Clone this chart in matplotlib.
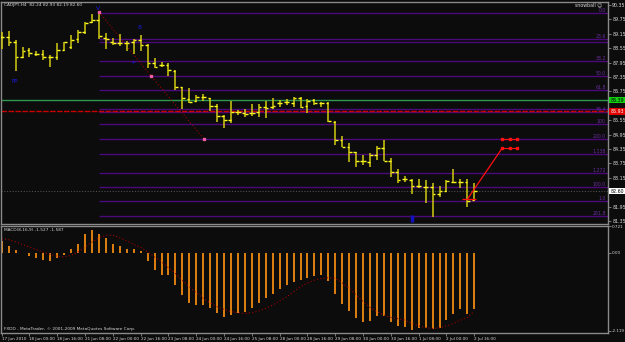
import matplotlib.pyplot as plt

plt.rcParams['font.family'] = ['Liberation Sans Narrow', 'DejaVu Sans']

W, H = 625, 342

# H4 bars, CADJPY 17 Jun - 2 Jul 2010
opens = [89.00, 89.03, 88.82, 88.20, 88.47, 88.31, 88.31, 88.20, 88.17, 88.47,
         88.61, 88.92, 89.21, 89.65, 89.72, 88.96, 88.82, 88.75, 88.75, 88.82,
         88.89, 88.68, 87.95, 87.83, 87.85, 87.61, 86.92, 86.42, 86.36, 86.53,
         86.46, 86.14, 85.73, 85.56, 85.88, 85.84, 85.86, 85.88, 86.09, 86.09,
         86.28, 86.30, 86.28, 86.46, 86.15, 86.39, 86.25, 86.25, 85.49, 84.72,
         84.45, 84.22, 83.84, 83.82, 84.10, 84.38, 83.86, 83.40, 83.09, 83.06,
         82.81, 82.78, 82.76, 82.46, 82.60, 82.99, 82.99, 82.99, 82.24]
highs = [89.21, 89.28, 88.89, 88.61, 88.55, 88.45, 88.47, 88.27, 88.75, 88.82,
         89.10, 89.31, 89.65, 89.97, 90.05, 89.20, 88.96, 89.14, 88.85, 88.92,
         89.10, 88.72, 88.13, 87.99, 87.92, 87.64, 86.92, 86.89, 86.60, 86.64,
         86.47, 86.21, 85.77, 86.36, 85.97, 86.00, 86.22, 86.22, 86.35, 86.46,
         86.39, 86.43, 86.50, 86.50, 86.42, 86.43, 86.32, 86.32, 85.52, 84.89,
         84.61, 84.22, 84.10, 84.17, 84.47, 84.72, 83.96, 83.50, 83.23, 83.10,
         83.11, 83.06, 82.92, 82.82, 83.06, 83.50, 83.09, 83.09, 82.93]
lows = [88.52, 88.65, 87.61, 88.13, 88.20, 88.24, 88.06, 87.75, 88.06, 88.45,
        88.50, 88.78, 89.13, 89.59, 88.92, 88.52, 88.68, 88.65, 88.45, 88.30,
        88.45, 87.71, 87.71, 87.77, 87.39, 86.81, 86.00, 86.25, 86.32, 86.36,
        85.95, 85.46, 85.21, 85.42, 85.77, 85.67, 85.72, 85.70, 85.63, 86.02,
        86.11, 86.18, 86.11, 86.07, 85.86, 86.18, 86.11, 85.49, 84.52, 84.42,
        83.80, 83.61, 83.68, 83.61, 83.89, 83.86, 83.17, 82.92, 82.99, 82.48,
        82.71, 82.11, 81.53, 82.36, 82.57, 82.95, 82.71, 81.92, 82.19]
closes = [89.00, 88.82, 88.20, 88.45, 88.34, 88.31, 88.20, 88.20, 88.47, 88.80,
          88.89, 89.21, 89.61, 89.72, 89.06, 88.92, 88.75, 88.75, 88.78, 88.89,
          88.68, 87.95, 87.78, 87.83, 87.64, 86.92, 86.46, 86.32, 86.53, 86.50,
          86.14, 85.73, 85.56, 85.90, 85.88, 85.81, 85.86, 86.09, 86.05, 86.14,
          86.28, 86.30, 86.46, 86.11, 86.36, 86.25, 86.25, 85.52, 84.72, 84.45,
          84.22, 83.84, 83.86, 84.10, 84.38, 83.86, 83.40, 83.06, 83.09, 82.81,
          82.81, 82.76, 82.46, 82.60, 83.03, 82.99, 82.99, 82.20, 82.60]

macd_hist = [0.31, 0.18, 0.08, -0.02, -0.09, -0.14, -0.21, -0.24, -0.15, -0.06,
             0.10, 0.24, 0.50, 0.62, 0.51, 0.39, 0.24, 0.17, 0.11, 0.11,
             0.05, -0.23, -0.48, -0.61, -0.62, -0.88, -1.15, -1.36, -1.42, -1.42,
             -1.51, -1.63, -1.74, -1.69, -1.63, -1.60, -1.51, -1.36, -1.24, -1.13,
             -1.00, -0.88, -0.79, -0.75, -0.68, -0.64, -0.61, -0.77, -1.13, -1.40,
             -1.58, -1.78, -1.87, -1.85, -1.72, -1.72, -1.87, -1.99, -2.03, -2.10,
             -2.05, -2.05, -2.08, -2.05, -1.83, -1.67, -1.54, -1.67, -1.53]
macd_signal = [0.38, 0.35, 0.29, 0.22, 0.15, 0.08, 0.01, -0.05, -0.10, -0.12,
               -0.07, 0.02, 0.15, 0.29, 0.40, 0.47, 0.47, 0.40, 0.32, 0.22,
               0.14, 0.02, -0.12, -0.25, -0.41, -0.57, -0.75, -0.93, -1.09, -1.24,
               -1.36, -1.47, -1.54, -1.60, -1.63, -1.65, -1.63, -1.58, -1.51, -1.42,
               -1.31, -1.20, -1.06, -0.93, -0.82, -0.75, -0.70, -0.68, -0.70, -0.82,
               -0.97, -1.15, -1.33, -1.49, -1.60, -1.69, -1.76, -1.79, -1.83, -1.92,
               -1.99, -2.03, -2.06, -2.04, -1.99, -1.92, -1.83, -1.76, -1.587]

price_ticks = [90.35, 89.75, 89.15, 88.55, 87.95, 87.35, 86.75, 85.55,
               84.95, 84.35, 83.75, 83.15, 81.95, 81.35]
time_labels = ['17 Jun 2010', '18 Jun 00:00', '18 Jun 16:00', '21 Jun 08:00',
               '22 Jun 00:00', '22 Jun 16:00', '23 Jun 08:00', '24 Jun 00:00',
               '24 Jun 16:00', '25 Jun 08:00', '28 Jun 00:00', '28 Jun 16:00',
               '29 Jun 08:00', '30 Jun 00:00', '30 Jun 16:00', '1 Jul 08:00',
               '2 Jul 00:00', '2 Jul 16:00']

# fibonacci levels and their captions
fib_levels = [90.00, 88.92, 88.80, 88.00, 87.38, 86.80, 86.00, 85.88,
              85.38, 84.75, 84.13, 83.34, 82.75, 82.17, 81.55]
fib_names = ['0.0', '23.6', '', '38.2', '50.0', '61.8', '', '76.4',
             '100', '200.0', '1.138', '1.272', '100.0', '1.0', '261.8']

# hand drawn objects
zigzag_x = [14, 21.5, 29.1]
zigzag_y = [90.06, 87.39, 84.77]
proj_x = [67.1, 72.0]
proj_y = [82.30, 84.38]
target_x = [72.0, 73.1, 74.2]
target_levels = [84.75, 84.38]

green_level = 86.39
red_level = 85.93
last_price = 82.60

bg = '#0C0C0C'
grid_c = '#8A8A8A'
txt_c = '#D8D8D8'
fs = 3.4

fig = plt.figure(figsize=(W / 100, H / 100), dpi=100, facecolor=bg)


def px_axes(x0, y0, x1, y1):
    return fig.add_axes([x0 / W, 1 - y1 / H, (x1 - x0) / W, (y1 - y0) / H])


main = px_axes(1, 2, 608, 224)
macd = px_axes(1, 226, 608, 333)
xlim = (-0.1, 87.24)

for ax in (main, macd):
    ax.set_facecolor(bg)
    ax.set_xlim(*xlim)
    for s in ax.spines.values():
        s.set_color(grid_c)
        s.set_linewidth(1)
    ax.yaxis.tick_right()
    ax.tick_params(colors=grid_c, labelcolor=txt_c, labelsize=fs, length=2,
                   width=0.6, pad=1)

n = len(opens)
xs = list(range(n))

# ---- price panel ----
main.set_ylim(81.225, 90.475)
main.set_yticks(price_ticks)
main.set_yticklabels(['%.2f' % v for v in price_ticks])
main.set_xticks([])

main.hlines(fib_levels, 14, xlim[1], color='#4A0A7A', lw=1, zorder=1)
for lv, nm in zip(fib_levels, fib_names):
    main.text(86.9, lv + 0.02, nm, color='#6A2CA0', fontsize=3.3,
              ha='right', va='bottom')

main.axhline(green_level, color='#2E9A50', lw=1, zorder=1)
main.axhline(red_level, color='#C80000', lw=1, ls=(0, (4, 1)), zorder=1)
main.axhline(last_price, color='#505050', lw=0.8, ls=(0, (1, 1.5)), zorder=1)

main.vlines(xs, lows, highs, color='#D2CA12', lw=1.1, zorder=3)
main.hlines(opens, [x - 0.38 for x in xs], xs, color='#FFFF20', lw=1, zorder=3)
main.hlines(closes, xs, [x + 0.38 for x in xs], color='#FFFF20', lw=1, zorder=3)

main.plot(zigzag_x, zigzag_y, color='#A00000', lw=0.8, ls=(0, (1, 2)), zorder=2)
main.plot(zigzag_x, zigzag_y, 's', color='#F060A0', ms=1.6, zorder=4)

main.plot(proj_x, proj_y, color='#FF1010', lw=0.9, zorder=4)
main.hlines(82.27, 66.2, 68.2, color='#FF1010', lw=0.9, zorder=4)
for lv in target_levels:
    main.plot(target_x, [lv] * 3, color='#FF1010', lw=0.8, marker='s', ms=1.6,
              zorder=4)

main.text(13.9, 90.2, 'V', color='#1A1AE0', fontsize=4.5, ha='center', va='center')
main.text(19.9, 89.43, '8', color='#1A1AE0', fontsize=4.5, ha='center', va='center')
main.text(18.9, 87.97, '+', color='#1A1AE0', fontsize=4.5, ha='center', va='center')
main.text(1.9, 87.18, 'PP', color='#1A1AE0', fontsize=4, ha='center', va='center')
main.vlines(59, 81.32, 81.58, color='#1010C0', lw=2.5, zorder=4)

yt = main.get_yaxis_transform()
box_kw = dict(transform=yt, fontsize=fs, ha='left', va='center', clip_on=False,
              zorder=6)
main.text(1.004, green_level, '%.2f' % green_level, color='black',
          bbox=dict(boxstyle='square,pad=0.2', fc='#10D010', ec='none'), **box_kw)
main.text(1.004, red_level, '%.2f' % red_level, color='white',
          bbox=dict(boxstyle='square,pad=0.2', fc='#E00000', ec='none'), **box_kw)
main.text(1.004, last_price, '%.2f' % last_price, color='black',
          bbox=dict(boxstyle='square,pad=0.2', fc='white', ec='none'), **box_kw)

# ---- MACD panel ----
macd.set_ylim(-2.18, 0.71)
macd.set_yticks([0.721, 0.0, -2.119])
macd.set_yticklabels(['0.721', '0.00', '-2.119'])
macd.tick_params(axis='y', labelsize=3.0)
macd.vlines(xs, 0, macd_hist, color='#F08A12', lw=1.3)
macd.plot(xs, macd_signal, color='#A00000', lw=0.8, ls=(0, (1, 2)))
macd.set_xticks(list(range(0, n, 4)))
macd.set_xticklabels(time_labels, ha='left', fontsize=3.0)
macd.tick_params(axis='x', pad=1)

# ---- captions ----
fig.text(4 / W, 1 - 5 / H, 'CADJPY,H4  82.24 82.93 82.19 82.60', color=txt_c,
         fontsize=3.1, va='center')
fig.text(602 / W, 1 - 5 / H, 'snowball \u263a', color=txt_c, fontsize=fs,
         ha='right', va='center')
fig.text(4 / W, 1 - 230 / H, 'MACD(8,16,9) -1.527 -1.587', color=txt_c,
         fontsize=3.1, va='center')
fig.text(4 / W, 1 - 329 / H,
         'FXDD - MetaTrader, \u00a9 2001-2009 MetaQuotes Software Corp.',
         color=txt_c, fontsize=3.1, va='center')

fig.savefig('out.png', dpi=100, facecolor=bg)
